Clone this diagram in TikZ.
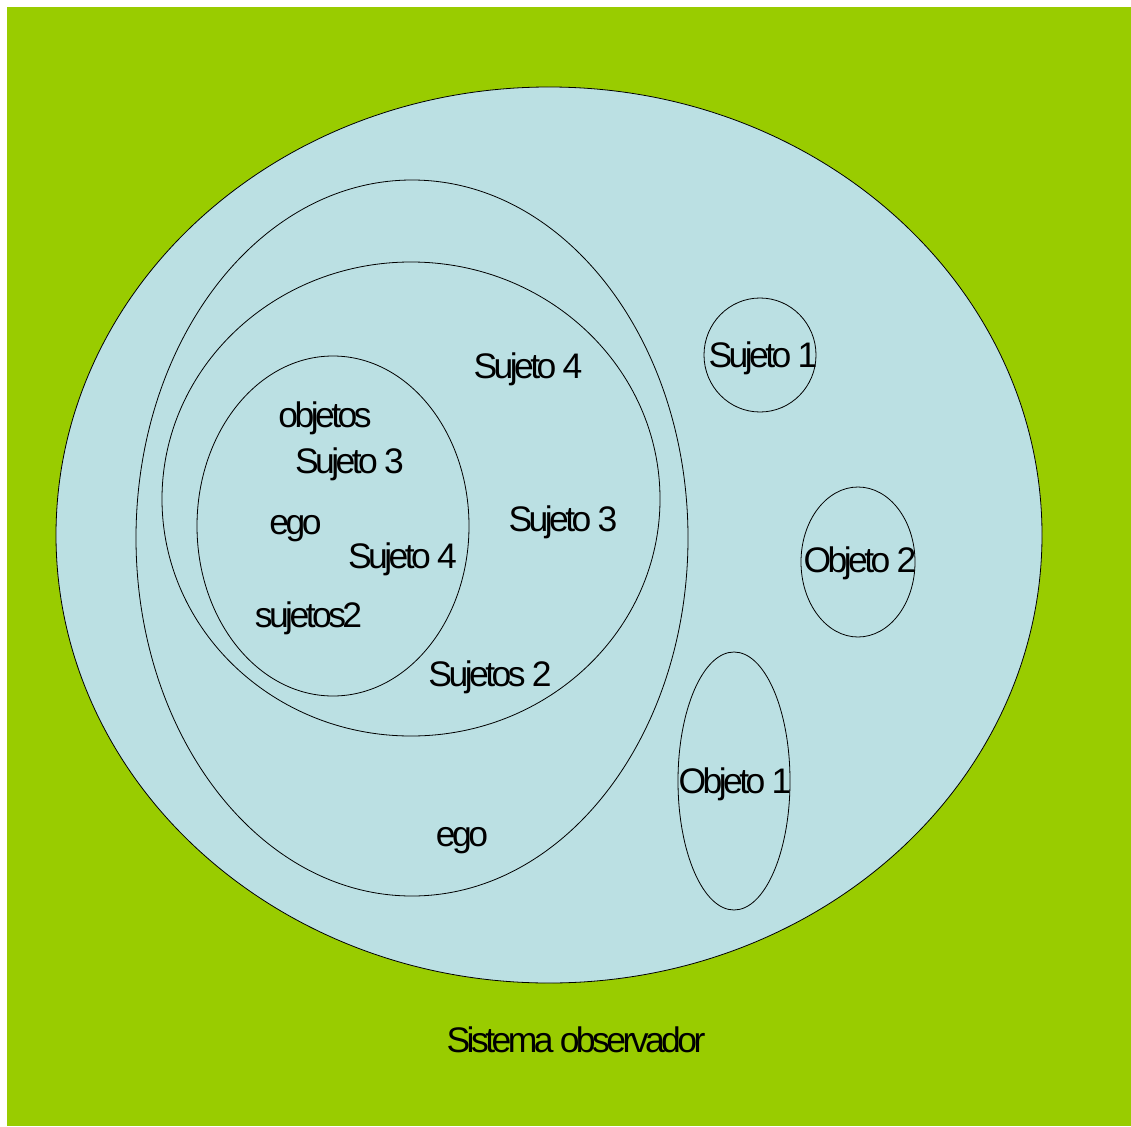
\documentclass[tikz,border=0pt]{standalone}
\usepackage{fontspec}
\setmainfont{Liberation Sans}[LetterSpace=-10]
\definecolor{bggreen}{HTML}{99CC00}
\definecolor{paleblue}{HTML}{BBE0E3}
\begin{document}
\begin{tikzpicture}[x=1pt,y=-1pt,
  lbl/.style={font=\fontsize{35.5}{38}\selectfont, inner sep=0pt, anchor=base},
  ring/.style={draw=black, line width=0.8pt}]
\useasboundingbox (0,0) rectangle (1131,1126);
\fill[bggreen] (7,7) rectangle (1131,1126);
\filldraw[fill=paleblue, ring] (549,535) ellipse [x radius=493, y radius=448];
\draw[ring] (412,538) ellipse [x radius=276, y radius=358];
\draw[ring] (411,499) ellipse [x radius=249, y radius=237];
\draw[ring] (333,526) ellipse [x radius=136, y radius=170];
\draw[ring] (760,355) ellipse [x radius=56, y radius=57];
\draw[ring] (858,562) ellipse [x radius=57, y radius=75];
\draw[ring] (734,781) ellipse [x radius=56, y radius=129];
\node[lbl] (s4a) at (528,378) {Sujeto 4};
\node[lbl] (obj) at (325,427) {objetos};
\node[lbl] (s3a) at (349.5,473) {Sujeto 3};
\node[lbl] (ego1) at (295.5,534) {ego};
\node[lbl] (s3b) at (563,531.5) {Sujeto 3};
\node[lbl] (s4b) at (402.5,568) {Sujeto 4};
\node[lbl] (suj2) at (308.5,627) {sujetos2};
\node[lbl] (suj2b) at (490,686.5) {Sujetos 2};
\node[lbl] (ego2) at (462,846) {ego};
\node[lbl] (s1) at (763,367) {Sujeto 1};
\node[lbl] (o2) at (860,572) {Objeto 2};
\node[lbl] (o1) at (735,793) {Objeto 1};
\node[lbl] (sis) at (576,1052) {Sistema observador};
\end{tikzpicture}
\end{document}
